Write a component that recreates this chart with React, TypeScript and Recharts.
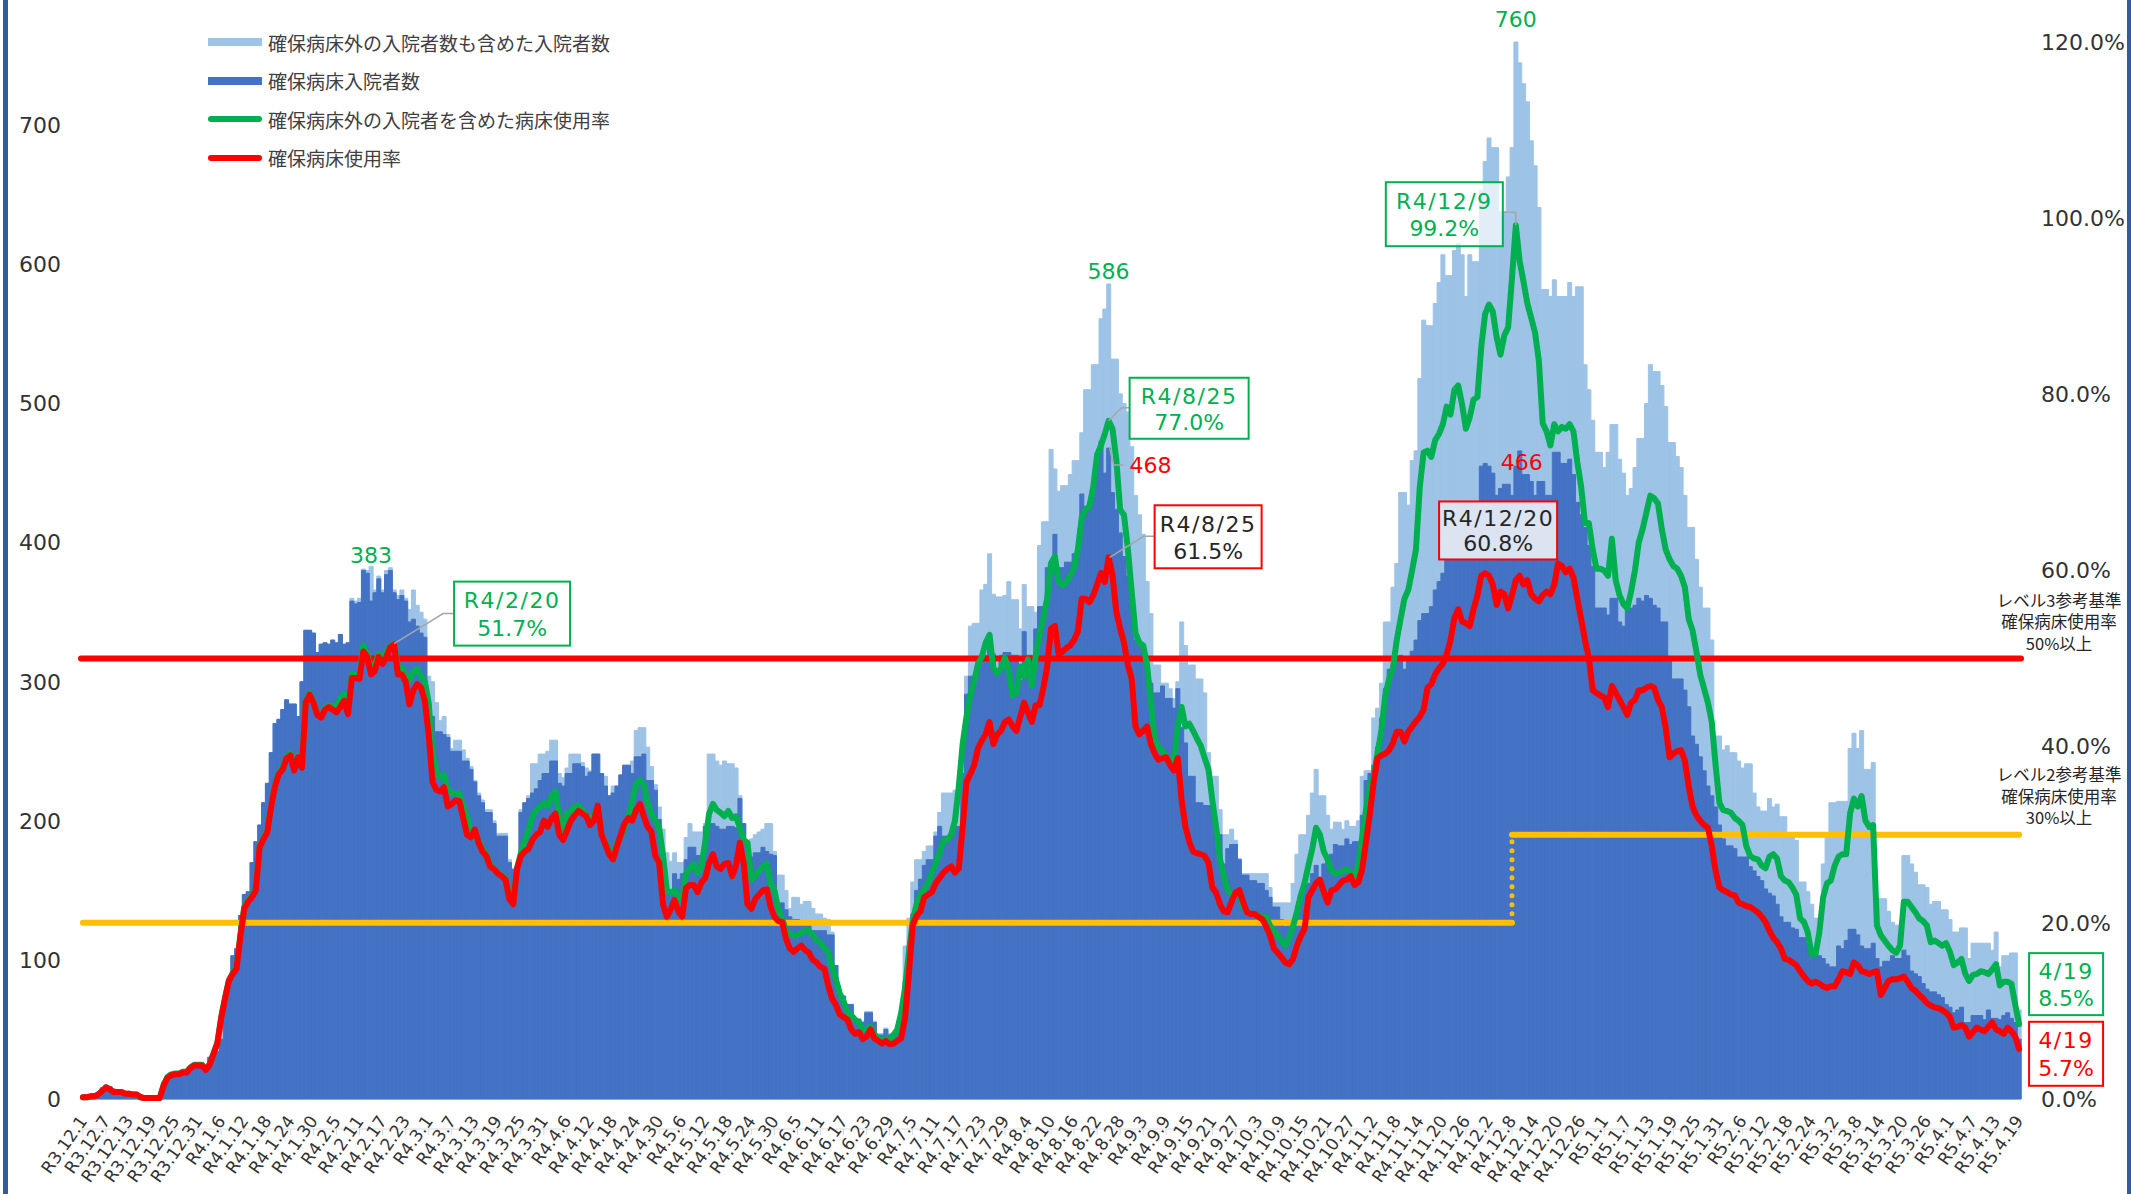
import {
  Bar,
  ComposedChart,
  Line,
  ReferenceDot,
  ReferenceLine,
  XAxis,
  YAxis,
} from "recharts"

const WIDTH = 2131
const HEIGHT = 1194
const FONT = "'DejaVu Sans', 'Noto Sans CJK JP', sans-serif"
const JP_FONT = "'Noto Sans CJK JP', 'DejaVu Sans', sans-serif"

const GREEN = "#00B050"
const RED = "#FF0000"
const LIGHT = "#9DC3E6"
const DARK = "#4472C4"
const YELLOW = "#FFC000"
const LEADER = "#A6A6A6"
const INK = "#262626"
const FRAME = "#3558A0"

// one category per day, R3.12.1 .. R5.4.19
const dayCount = 505
const days = Array.from({ length: dayCount }, (_, i) => {
  const d = new Date(2021, 11, 1 + i)
  return `R${d.getFullYear() - 2018}.${d.getMonth() + 1}.${d.getDate()}`
})

// 確保病床入院者数 (people)
const securedInpatients = [
  2, 3, 3, 4, 5, 8, 10, 9, 7, 6,
  6, 5, 5, 4, 3, 3, 2, 1, 1, 1,
  1, 12, 15, 19, 17, 17, 18, 17, 20, 23,
  23, 24, 22, 30, 32, 34, 43, 68, 86, 103,
  108, 132, 147, 149, 170, 185, 197, 213, 227, 249,
  270, 273, 280, 287, 284, 284, 275, 300, 337, 337,
  335, 321, 327, 328, 327, 330, 328, 334, 327, 328,
  358, 356, 357, 380, 378, 358, 364, 374, 364, 377,
  380, 364, 359, 362, 358, 343, 345, 340, 335, 332,
  285, 275, 264, 264, 262, 260, 250, 250, 250, 243,
  243, 237, 228, 218, 213, 206, 206, 198, 189, 189,
  189, 170, 165, 165, 206, 213, 216, 220, 223, 229,
  234, 234, 243, 243, 227, 225, 234, 234, 241, 241,
  239, 232, 235, 248, 248, 234, 225, 218, 220, 225,
  233, 240, 240, 234, 246, 246, 248, 229, 229, 222,
  201, 177, 150, 150, 162, 158, 162, 172, 181, 181,
  175, 175, 196, 198, 198, 196, 194, 194, 196, 196,
  195, 216, 198, 172, 174, 177, 177, 181, 178, 176,
  175, 141, 141, 136, 131, 129, 129, 127, 127, 127,
  121, 121, 121, 121, 118, 118, 96, 74, 74, 68,
  68, 57, 57, 55, 62, 62, 55, 46, 46, 50,
  46, 46, 52, 60, 85, 110, 133, 150, 158, 168,
  172, 172, 189, 196, 189, 189, 189, 196, 196, 234,
  291, 304, 304, 317, 319, 319, 334, 320, 304, 319,
  321, 321, 319, 319, 301, 336, 319, 319, 338, 354,
  354, 382, 382, 406, 382, 382, 386, 386, 392, 392,
  435, 426, 426, 440, 465, 473, 450, 468, 436, 424,
  407, 390, 376, 362, 330, 326, 322, 303, 299, 292,
  292, 297, 288, 288, 281, 295, 267, 256, 232, 232,
  213, 213, 211, 211, 208, 190, 190, 169, 180, 183,
  183, 172, 161, 161, 157, 157, 155, 155, 150, 145,
  138, 138, 129, 124, 126, 127, 134, 141, 155, 155,
  162, 168, 159, 169, 172, 176, 183, 182, 182, 187,
  183, 185, 185, 204, 229, 234, 240, 253, 274, 295,
  309, 312, 316, 319, 309, 316, 322, 330, 344, 349,
  349, 354, 366, 372, 378, 388, 393, 398, 406, 414,
  414, 412, 424, 424, 455, 457, 455, 450, 434, 439,
  442, 442, 434, 455, 466, 449, 449, 444, 434, 444,
  444, 434, 434, 465, 465, 457, 457, 460, 449, 429,
  420, 411, 398, 383, 353, 353, 353, 348, 360, 360,
  343, 340, 353, 353, 355, 360, 358, 362, 360, 355,
  353, 343, 343, 317, 302, 302, 302, 294, 282, 261,
  255, 246, 236, 225, 218, 210, 197, 187, 182, 182,
  180, 174, 174, 174, 167, 164, 160, 157, 151, 148,
  146, 140, 131, 127, 127, 123, 122, 116, 116, 112,
  105, 104, 103, 101, 97, 95, 95, 110, 108, 114,
  122, 122, 118, 110, 108, 108, 112, 101, 95, 99,
  99, 103, 101, 101, 107, 103, 92, 90, 88, 83,
  79, 77, 77, 75, 73, 68, 66, 62, 64, 66,
  55, 55, 60, 60, 60, 57, 64, 58, 58, 57,
  60, 62, 58, 55, 43,
]

// 確保病床外の入院者数も含めた入院者数 (people)
const allInpatients = [
  2, 3, 3, 4, 5, 8, 10, 9, 7, 6,
  6, 5, 5, 4, 3, 3, 2, 1, 1, 1,
  1, 12, 15, 19, 17, 17, 18, 17, 20, 23,
  23, 24, 22, 30, 32, 34, 43, 68, 86, 103,
  108, 132, 147, 149, 170, 185, 197, 213, 227, 249,
  270, 273, 280, 287, 284, 284, 275, 300, 337, 337,
  335, 321, 327, 328, 327, 330, 328, 334, 327, 328,
  360, 358, 360, 381, 380, 383, 366, 376, 366, 380,
  382, 366, 362, 366, 360, 352, 366, 355, 350, 345,
  304, 300, 285, 272, 275, 262, 252, 258, 258, 251,
  245, 239, 229, 220, 215, 208, 208, 200, 191, 191,
  191, 172, 166, 166, 208, 213, 218, 241, 241, 248,
  248, 250, 258, 258, 234, 231, 238, 248, 248, 248,
  242, 238, 236, 248, 248, 234, 232, 218, 225, 225,
  233, 240, 240, 243, 265, 267, 267, 253, 239, 226,
  210, 194, 177, 171, 177, 170, 170, 188, 198, 192,
  192, 192, 198, 248, 248, 243, 240, 243, 241, 241,
  238, 218, 198, 176, 187, 190, 192, 194, 198, 198,
  178, 161, 161, 150, 137, 145, 145, 140, 142, 142,
  137, 133, 133, 130, 129, 120, 96, 76, 74, 68,
  68, 58, 58, 56, 63, 63, 56, 47, 47, 51,
  47, 47, 53, 62, 110, 130, 156, 172, 172, 178,
  182, 182, 192, 206, 220, 220, 220, 222, 222, 256,
  304, 340, 342, 342, 366, 370, 392, 363, 361, 361,
  362, 372, 359, 359, 338, 370, 354, 354, 350, 398,
  415, 415, 467, 453, 437, 441, 441, 449, 459, 459,
  479, 510, 510, 528, 528, 561, 568, 586, 532, 532,
  507, 500, 494, 469, 434, 420, 406, 372, 349, 312,
  312, 299, 299, 295, 288, 300, 343, 326, 312, 312,
  302, 302, 292, 249, 232, 232, 208, 190, 190, 194,
  186, 173, 162, 162, 162, 162, 162, 162, 162, 152,
  141, 141, 141, 141, 141, 155, 176, 190, 190, 204,
  220, 237, 218, 218, 204, 194, 199, 199, 194, 200,
  196, 196, 200, 232, 236, 236, 274, 281, 299, 343,
  343, 368, 385, 436, 436, 427, 459, 466, 518, 560,
  556, 556, 572, 587, 607, 592, 592, 610, 615, 607,
  577, 607, 602, 602, 653, 674, 691, 684, 684, 638,
  638, 663, 684, 760, 745, 730, 717, 689, 671, 641,
  582, 582, 577, 589, 577, 577, 577, 587, 577, 584,
  584, 528, 510, 488, 465, 465, 454, 465, 485, 485,
  460, 450, 434, 439, 454, 475, 475, 500, 528, 523,
  523, 513, 498, 472, 472, 462, 454, 434, 411, 411,
  388, 368, 353, 353, 330, 261, 261, 251, 254, 249,
  249, 243, 238, 241, 241, 220, 210, 207, 207, 216,
  210, 212, 203, 203, 188, 188, 186, 156, 156, 149,
  140, 130, 130, 169, 190, 213, 213, 214, 214, 214,
  252, 263, 252, 265, 237, 237, 242, 144, 144, 144,
  135, 127, 125, 125, 175, 175, 169, 163, 154, 154,
  152, 140, 142, 142, 136, 136, 129, 120, 120, 123,
  123, 101, 112, 112, 112, 112, 112, 107, 120, 95,
  103, 103, 105, 105, 64,
]

// 確保病床使用率 (%)
const securedRate = [
  0.2, 0.2, 0.3, 0.3, 0.5, 0.9, 1.3, 1.1, 0.8, 0.8,
  0.8, 0.6, 0.6, 0.5, 0.5, 0.2, 0.1, 0.1, 0.1, 0.1,
  0.1, 1.5, 2.4, 2.7, 2.8, 2.8, 3.0, 3.0, 3.5, 3.8,
  3.8, 3.8, 3.3, 3.9, 5.1, 6.3, 9.2, 11.4, 13.4, 14.2,
  14.8, 18.5, 21.6, 22.4, 22.9, 23.7, 28.6, 29.5, 30.3, 33.2,
  35.5, 36.9, 37.4, 38.7, 39.0, 37.3, 38.8, 37.6, 45.0, 45.9,
  45.0, 43.6, 43.3, 44.2, 44.5, 44.2, 43.9, 44.5, 45.2, 43.7,
  47.8, 47.8, 47.7, 50.8, 50.2, 48.2, 48.6, 50.2, 49.4, 50.2,
  51.3, 51.6, 48.2, 48.2, 47.4, 44.8, 46.4, 47.1, 46.7, 45.2,
  41.4, 36.0, 35.1, 34.9, 35.4, 33.2, 33.5, 33.9, 33.8, 31.9,
  30.0, 29.7, 30.6, 29.1, 28.1, 27.6, 26.4, 26.1, 25.6, 25.3,
  24.9, 22.7, 22.1, 26.1, 27.6, 28.1, 28.4, 29.4, 30.0, 30.3,
  31.6, 30.9, 31.9, 32.4, 30.0, 29.4, 30.5, 31.6, 32.2, 32.7,
  32.4, 32.1, 31.1, 31.6, 33.3, 30.0, 28.9, 27.8, 27.2, 28.7,
  30.0, 31.3, 31.9, 31.6, 32.8, 33.5, 32.1, 30.9, 30.3, 27.6,
  26.8, 22.1, 20.7, 21.5, 22.6, 21.3, 20.7, 24.0, 24.3, 24.3,
  23.5, 24.6, 25.1, 26.8, 27.8, 26.4, 26.1, 26.7, 26.8, 25.3,
  26.5, 29.1, 26.8, 22.1, 21.6, 22.7, 23.2, 23.7, 23.8, 21.8,
  20.7, 20.2, 20.1, 18.2, 17.1, 16.7, 17.1, 17.4, 16.9, 16.6,
  15.8, 15.5, 15.0, 14.8, 12.9, 11.4, 10.7, 9.6, 9.3, 9.0,
  7.9, 7.4, 7.6, 6.8, 7.1, 7.9, 6.9, 6.6, 6.3, 6.6,
  6.2, 6.3, 6.6, 6.9, 9.2, 14.2, 19.7, 20.8, 21.3, 22.9,
  23.2, 23.5, 24.5, 25.1, 25.7, 26.1, 26.4, 25.7, 26.2, 30.8,
  36.0, 36.9, 37.9, 39.8, 40.7, 41.4, 42.8, 40.3, 41.4, 41.8,
  42.8, 43.1, 42.3, 41.8, 43.4, 45.0, 43.9, 42.8, 44.7, 44.7,
  46.6, 49.1, 53.4, 53.7, 50.5, 50.8, 51.2, 51.5, 52.1, 53.1,
  56.8, 56.8, 56.4, 57.2, 58.4, 59.7, 58.7, 61.5, 59.5, 55.3,
  53.4, 51.8, 49.3, 47.7, 42.3, 41.4, 41.8, 42.3, 40.3, 39.2,
  38.5, 38.7, 38.8, 37.9, 37.3, 38.7, 33.9, 30.9, 29.2, 28.1,
  27.9, 27.8, 27.6, 26.8, 24.0, 23.4, 22.1, 21.3, 21.2, 22.4,
  23.4, 23.7, 22.4, 21.2, 21.0, 21.0, 20.7, 20.4, 19.6, 18.6,
  17.1, 16.6, 16.1, 15.5, 15.3, 15.9, 17.4, 18.5, 19.3, 22.9,
  23.7, 24.5, 24.9, 23.5, 22.3, 23.7, 23.8, 24.3, 24.8, 24.9,
  25.3, 24.3, 24.6, 26.1, 29.2, 32.4, 36.0, 38.7, 39.0, 39.2,
  39.6, 40.4, 41.7, 41.7, 40.6, 41.7, 42.3, 42.9, 43.4, 44.2,
  46.7, 47.1, 48.2, 48.9, 49.4, 50.5, 52.1, 54.6, 55.6, 54.2,
  54.0, 53.7, 55.6, 57.2, 59.4, 59.7, 59.4, 58.4, 56.1, 57.6,
  57.3, 55.7, 57.2, 58.9, 59.4, 58.4, 58.9, 57.3, 56.8, 56.5,
  57.2, 57.6, 57.3, 58.4, 60.8, 60.5, 59.8, 60.2, 59.2, 56.8,
  54.5, 52.1, 50.1, 46.4, 46.1, 45.8, 45.6, 44.5, 46.9, 46.1,
  45.3, 44.5, 43.6, 45.0, 45.3, 46.4, 46.4, 46.7, 46.9, 46.7,
  45.3, 44.5, 42.2, 38.8, 39.2, 39.5, 39.6, 38.4, 35.5, 33.2,
  32.2, 31.6, 31.1, 30.8, 28.7, 25.9, 24.0, 23.7, 23.5, 23.2,
  23.1, 22.3, 22.1, 21.9, 21.8, 21.5, 21.2, 20.7, 20.1, 19.1,
  18.3, 17.8, 17.1, 15.9, 15.8, 15.5, 15.2, 14.5, 13.9, 13.4,
  13.1, 13.3, 13.1, 12.8, 12.6, 12.8, 12.8, 13.6, 14.5, 14.4,
  14.2, 15.5, 15.2, 14.5, 14.4, 14.2, 14.4, 14.5, 11.8, 12.6,
  13.4, 13.6, 13.6, 13.7, 13.9, 13.3, 12.6, 12.3, 11.8, 11.4,
  10.9, 10.6, 10.4, 10.3, 10.1, 9.8, 9.3, 8.1, 8.2, 8.4,
  8.1, 7.1, 7.6, 8.1, 7.9, 7.7, 8.2, 8.7, 7.9, 7.7,
  7.4, 8.1, 7.7, 7.1, 5.7,
]

// 確保病床外の入院者を含めた病床使用率 (%)
const allRate = [
  0.2, 0.2, 0.3, 0.3, 0.5, 0.9, 1.3, 1.1, 0.8, 0.8,
  0.8, 0.6, 0.6, 0.5, 0.5, 0.2, 0.1, 0.1, 0.1, 0.1,
  0.1, 1.6, 2.5, 2.8, 2.9, 2.9, 3.1, 3.1, 3.6, 3.9,
  3.9, 3.9, 3.4, 4.0, 5.2, 6.4, 9.3, 11.5, 13.5, 14.3,
  15.0, 18.7, 21.8, 22.6, 23.1, 23.9, 28.8, 29.7, 30.5, 33.4,
  35.7, 37.1, 37.6, 38.9, 39.2, 37.5, 39.0, 37.8, 45.2, 46.1,
  45.2, 43.8, 43.5, 44.4, 44.7, 44.6, 44.5, 45.5, 46.0, 44.3,
  48.2, 48.2, 48.0, 51.5, 50.5, 48.6, 49.3, 50.5, 49.9, 50.8,
  51.5, 51.7, 49.0, 49.0, 48.2, 47.5, 48.5, 48.8, 48.0, 47.4,
  45.0, 39.5, 37.1, 36.5, 36.8, 35.1, 34.7, 34.7, 34.7, 33.2,
  32.1, 30.3, 29.7, 29.4, 28.4, 27.8, 26.7, 26.2, 25.7, 25.4,
  25.1, 23.1, 22.3, 26.2, 27.9, 29.4, 30.5, 32.1, 32.8, 33.2,
  33.6, 33.2, 34.4, 34.9, 32.1, 30.5, 32.5, 32.7, 33.2, 33.3,
  32.8, 32.2, 31.7, 32.2, 33.2, 30.0, 29.2, 28.1, 27.6, 29.1,
  29.7, 30.8, 32.1, 33.9, 35.8, 36.2, 35.7, 33.6, 32.4, 31.6,
  30.8, 27.6, 23.7, 23.4, 23.7, 22.9, 22.6, 25.6, 26.2, 26.7,
  25.6, 26.4, 29.2, 32.4, 33.5, 32.8, 32.5, 32.1, 32.7, 31.9,
  32.1, 30.8, 29.4, 29.1, 24.9, 25.3, 25.9, 26.4, 26.7, 24.5,
  23.7, 21.6, 20.5, 19.1, 18.8, 18.6, 18.6, 18.9, 19.1, 19.1,
  18.6, 18.0, 17.7, 17.1, 16.7, 15.0, 13.6, 12.0, 11.1, 9.9,
  9.5, 9.0, 8.7, 7.9, 7.9, 8.2, 7.4, 6.8, 6.6, 6.9,
  6.6, 7.3, 7.9, 9.8, 12.6, 16.6, 20.2, 22.1, 23.2, 23.8,
  24.5, 25.7, 26.8, 27.9, 29.4, 29.4, 30.0, 31.6, 35.5, 40.3,
  43.4, 45.9, 47.4, 49.4, 50.2, 51.8, 52.7, 48.9, 48.3, 48.9,
  50.1, 48.6, 45.8, 46.1, 49.1, 48.0, 49.9, 46.9, 50.2, 52.7,
  54.6, 56.8, 60.8, 61.6, 58.7, 58.3, 58.7, 59.4, 60.3, 62.4,
  66.0, 66.9, 67.3, 69.5, 73.1, 74.2, 75.5, 77.0, 76.1, 72.6,
  66.9, 66.3, 62.5, 57.6, 52.9, 51.8, 51.5, 49.3, 45.0, 40.7,
  39.9, 39.5, 39.0, 38.5, 38.2, 42.3, 44.5, 42.3, 42.6, 41.8,
  40.9, 40.1, 38.7, 37.4, 33.9, 30.8, 27.2, 25.3, 23.7, 23.2,
  23.4, 23.4, 21.8, 21.3, 21.0, 21.0, 20.8, 20.7, 20.7, 19.7,
  19.1, 18.5, 18.0, 17.4, 18.3, 19.6, 21.2, 23.1, 24.5, 26.5,
  28.4, 30.8, 30.0, 28.1, 27.2, 25.9, 25.6, 25.7, 25.9, 26.1,
  25.6, 25.1, 26.7, 29.7, 32.8, 35.7, 36.6, 39.3, 41.8, 45.8,
  47.7, 48.9, 52.1, 54.5, 56.8, 57.8, 60.0, 62.4, 69.5, 73.4,
  73.6, 72.9, 74.8, 75.5, 76.6, 78.6, 77.7, 80.5, 81.0, 78.9,
  76.1, 77.4, 79.4, 79.7, 85.4, 89.1, 90.2, 89.4, 86.5, 84.5,
  86.7, 87.6, 93.2, 99.2, 95.1, 92.8, 90.3, 88.7, 87.0, 83.8,
  76.7, 75.8, 74.2, 76.6, 75.8, 76.3, 76.1, 76.6, 75.8, 72.3,
  69.5, 65.4, 65.4, 62.4, 60.2, 60.2, 60.0, 59.4, 63.6, 58.9,
  57.2, 56.2, 55.7, 57.6, 60.0, 63.2, 64.7, 66.6, 68.5, 68.2,
  67.6, 64.7, 62.4, 61.3, 60.5, 60.2, 59.4, 58.1, 54.5, 53.2,
  50.8, 48.2, 46.6, 45.0, 42.8, 37.9, 33.6, 32.8, 32.7, 32.5,
  31.9, 31.6, 31.1, 28.7, 27.6, 27.3, 27.2, 26.5, 26.2, 27.5,
  27.8, 27.3, 25.3, 24.8, 24.6, 24.0, 23.2, 20.5, 20.1, 18.9,
  16.4, 16.4, 18.9, 22.9, 24.5, 24.8, 26.5, 27.5, 27.8, 27.8,
  32.4, 34.1, 33.2, 34.4, 31.6, 30.9, 31.1, 19.7, 18.6, 18.0,
  17.4, 16.9, 16.6, 17.4, 22.4, 22.4, 21.8, 21.2, 20.5, 20.2,
  19.7, 17.8, 18.0, 17.7, 17.4, 17.7, 16.7, 15.2, 15.5, 15.9,
  14.2, 13.4, 14.1, 14.2, 14.5, 14.4, 14.2, 14.7, 15.3, 12.9,
  13.3, 13.3, 13.1, 10.7, 8.5,
]

const countTicks = [0, 100, 200, 300, 400, 500, 600, 700]
const rateTicks = [0, 20, 40, 60, 80, 100, 120]

// level reference lines (%): level 3 fixed, level 2 steps up on R4.12.8
const level3Rate = 50
const level2Steps = [
  { from: 0, to: 372, rate: 20 },
  { from: 372, to: 504, rate: 30 },
]

const legendItems = [
  { label: "確保病床外の入院者数も含めた入院者数", color: LIGHT, kind: "bar" },
  { label: "確保病床入院者数", color: DARK, kind: "bar" },
  { label: "確保病床外の入院者を含めた病床使用率", color: GREEN, kind: "line" },
  { label: "確保病床使用率", color: RED, kind: "line" },
]

const data = days.map((date, i) => ({
  date,
  secured: securedInpatients[i],
  all: allInpatients[i],
  securedRate: securedRate[i],
  allRate: allRate[i],
}))

type Pt = { cx?: number; cy?: number }

// rotated day label; its end sits just under the tick
function DayTick({ x, y, payload }: { x?: number; y?: number; payload?: { value: string } }) {
  const ax = (x ?? 0) + 5
  const ay = (y ?? 0) - 16
  return (
    <text
      x={ax}
      y={ay}
      transform={`rotate(-55 ${ax} ${ay})`}
      textAnchor="end"
      fontSize={17}
      fontFamily={FONT}
      fill="#333"
    >
      {payload?.value}
    </text>
  )
}

function Callout(props: {
  x: number
  y: number
  w: number
  h: number
  border: string
  color: string
  fill?: string
  lines: [string, string]
}) {
  const { x, y, w, h, border, color, fill = "#fff", lines } = props
  return (
    <g>
      <rect x={x} y={y} width={w} height={h} fill={fill} stroke={border} strokeWidth={2} />
      <text
        x={x + w / 2}
        y={y + h * 0.3}
        textAnchor="middle"
        dominantBaseline="central"
        fontSize={22}
        letterSpacing={1.5}
        fontFamily={FONT}
        fill={color}
      >
        {lines[0]}
      </text>
      <text
        x={x + w / 2}
        y={y + h * 0.73}
        textAnchor="middle"
        dominantBaseline="central"
        fontSize={22}
        fontFamily={FONT}
        fill={color}
      >
        {lines[1]}
      </text>
    </g>
  )
}

function PeakText({ x, y, color, text, anchor = "middle" }: { x: number; y: number; color: string; text: string; anchor?: "middle" | "start" }) {
  return (
    <text x={x} y={y} textAnchor={anchor} dominantBaseline="central" fontSize={22} fontFamily={FONT} fill={color}>
      {text}
    </text>
  )
}

function Leader({ pts }: { pts: number[][] }) {
  return <polyline points={pts.map((p) => p.join(",")).join(" ")} fill="none" stroke={LEADER} strokeWidth={1.5} />
}

function LevelNote({ x, y, lines, offsets }: { x: number; y: number; lines: string[]; offsets: number[] }) {
  return (
    <g>
      {lines.map((t, k) => (
        <text
          key={k}
          x={x}
          y={y + offsets[k]}
          textAnchor="middle"
          dominantBaseline="central"
          fontSize={16.5}
          fontFamily={JP_FONT}
          fill={INK}
        >
          {t}
        </text>
      ))}
    </g>
  )
}

function Legend() {
  return (
    <div style={{ position: "absolute", left: 208, top: 23, zIndex: 2 }}>
      {legendItems.map((it) => (
        <div key={it.label} style={{ display: "flex", alignItems: "center", height: 38.5 }}>
          <div
            style={{
              width: 54,
              height: it.kind === "bar" ? 8 : 6,
              background: it.color,
              borderRadius: it.kind === "bar" ? 0 : 3,
              marginRight: 6,
            }}
          />
          <span style={{ fontFamily: JP_FONT, fontSize: 19, color: "#404040", whiteSpace: "nowrap" }}>{it.label}</span>
        </div>
      ))}
    </div>
  )
}

export default function App() {
  const last = days[dayCount - 1]
  return (
    <div
      style={{
        position: "absolute",
        left: 0,
        top: 0,
        width: WIDTH,
        height: HEIGHT,
        background: "#fff",
        overflow: "hidden",
      }}
    >
      <div style={{ position: "absolute", left: 3, top: 0, width: 5, height: HEIGHT, background: FRAME, zIndex: 3 }} />
      <div style={{ position: "absolute", left: 2127, top: 0, width: 4, height: HEIGHT, background: FRAME, zIndex: 3 }} />
      <Legend />
      <ComposedChart
        width={WIDTH}
        height={HEIGHT}
        data={data}
        margin={{ top: 42, right: 0, bottom: 0, left: 0 }}
        barCategoryGap={0}
        barGap={0}
      >
        <XAxis
          xAxisId="main"
          dataKey="date"
          interval={5}
          height={95}
          tickSize={6}
          tickMargin={2}
          tickLine={{ stroke: "#D9D9D9" }}
          axisLine={{ stroke: "#D9D9D9" }}
          tick={(p: any) => <DayTick {...p} />}
        />
        <XAxis xAxisId="back" dataKey="date" hide />
        <YAxis
          yAxisId="left"
          domain={[0, 760]}
          ticks={countTicks}
          width={81}
          tickSize={0}
          tickMargin={20}
          axisLine={false}
          tickLine={false}
          tick={{ fontSize: 22, fill: "#333", fontFamily: FONT }}
        />
        <YAxis
          yAxisId="right"
          orientation="right"
          domain={[0, 120]}
          ticks={rateTicks}
          width={110}
          tickSize={0}
          tickMargin={20}
          axisLine={false}
          tickLine={false}
          tickFormatter={(v: number) => `${v.toFixed(1)}%`}
          tick={{ fontSize: 22, fill: "#333", fontFamily: FONT }}
        />
        <Bar
          xAxisId="back"
          yAxisId="left"
          dataKey="all"
          fill={LIGHT}
          stroke={LIGHT}
          strokeWidth={1}
          isAnimationActive={false}
        />
        <Bar
          xAxisId="main"
          yAxisId="left"
          dataKey="secured"
          fill={DARK}
          stroke={DARK}
          strokeWidth={1}
          isAnimationActive={false}
        />
        <ReferenceLine
          xAxisId="main"
          yAxisId="right"
          y={level3Rate}
          stroke={RED}
          strokeWidth={6}
          strokeLinecap="round"
        />
        {level2Steps.map((s) => (
          <ReferenceLine
            key={s.from}
            xAxisId="main"
            yAxisId="right"
            segment={[
              { x: days[s.from], y: s.rate },
              { x: days[s.to], y: s.rate },
            ]}
            stroke={YELLOW}
            strokeWidth={6}
            strokeLinecap="round"
          />
        ))}
        <ReferenceLine
          xAxisId="main"
          yAxisId="right"
          segment={[
            { x: days[level2Steps[1].from], y: level2Steps[0].rate },
            { x: days[level2Steps[1].from], y: level2Steps[1].rate },
          ]}
          stroke={YELLOW}
          strokeWidth={5}
          strokeDasharray="0 9"
          strokeLinecap="round"
        />
        <Line
          xAxisId="main"
          yAxisId="right"
          type="linear"
          dataKey="allRate"
          stroke={GREEN}
          strokeWidth={6}
          strokeLinejoin="round"
          strokeLinecap="round"
          dot={false}
          activeDot={false}
          isAnimationActive={false}
        />
        <Line
          xAxisId="main"
          yAxisId="right"
          type="linear"
          dataKey="securedRate"
          stroke={RED}
          strokeWidth={6}
          strokeLinejoin="round"
          strokeLinecap="round"
          dot={false}
          activeDot={false}
          isAnimationActive={false}
        />

        {/* level notes on the right */}
        <ReferenceDot
          xAxisId="main"
          yAxisId="right"
          x={last}
          y={level3Rate}
          r={0}
          zIndex={1500}
          shape={(p: Pt) => (
            <LevelNote
              x={(p.cx ?? 0) + 40}
              y={p.cy ?? 0}
              lines={["レベル3参考基準", "確保病床使用率", "50%以上"]}
              offsets={[-59, -37.5, -16]}
            />
          )}
        />
        <ReferenceDot
          xAxisId="main"
          yAxisId="right"
          x={last}
          y={level2Steps[1].rate}
          r={0}
          zIndex={1500}
          shape={(p: Pt) => (
            <LevelNote
              x={(p.cx ?? 0) + 40}
              y={p.cy ?? 0}
              lines={["レベル2参考基準", "確保病床使用率", "30%以上"]}
              offsets={[-61, -39, -18]}
            />
          )}
        />

        {/* peak labels */}
        <ReferenceDot
          xAxisId="main"
          yAxisId="left"
          x={days[75]}
          y={383}
          r={0}
          zIndex={1500}
          shape={(p: Pt) => <PeakText x={p.cx ?? 0} y={(p.cy ?? 0) - 11} color={GREEN} text="383" />}
        />
        <ReferenceDot
          xAxisId="main"
          yAxisId="left"
          x={days[267]}
          y={586}
          r={0}
          zIndex={1500}
          shape={(p: Pt) => <PeakText x={p.cx ?? 0} y={(p.cy ?? 0) - 12} color={GREEN} text="586" />}
        />
        <ReferenceDot
          xAxisId="main"
          yAxisId="left"
          x={days[373]}
          y={760}
          r={0}
          zIndex={1500}
          shape={(p: Pt) => <PeakText x={p.cx ?? 0} y={(p.cy ?? 0) - 23} color={GREEN} text="760" />}
        />
        <ReferenceDot
          xAxisId="main"
          yAxisId="left"
          x={days[267]}
          y={468}
          r={0}
          zIndex={1500}
          shape={(p: Pt) => {
            const x = p.cx ?? 0
            const y = p.cy ?? 0
            return (
              <g>
                <Leader pts={[[x + 1, y], [x + 5, y + 17], [x + 15, y + 17]]} />
                <PeakText x={x + 21} y={y + 17} color={RED} text="468" anchor="start" />
              </g>
            )
          }}
        />
        <ReferenceDot
          xAxisId="main"
          yAxisId="left"
          x={days[374]}
          y={466}
          r={0}
          zIndex={1500}
          shape={(p: Pt) => <PeakText x={(p.cx ?? 0) + 2} y={(p.cy ?? 0) + 12} color={RED} text="466" />}
        />

        {/* callout boxes */}
        <ReferenceDot
          xAxisId="main"
          yAxisId="right"
          x={days[81]}
          y={51.7}
          r={0}
          zIndex={1500}
          shape={(p: Pt) => {
            const x = p.cx ?? 0
            const y = p.cy ?? 0
            return (
              <g>
                <Leader pts={[[x, y], [x + 49, y - 30], [x + 60, y - 30]]} />
                <Callout x={x + 60} y={y - 62} w={116} h={64} border={GREEN} color={GREEN} lines={["R4/2/20", "51.7%"]} />
              </g>
            )
          }}
        />
        <ReferenceDot
          xAxisId="main"
          yAxisId="right"
          x={days[267]}
          y={77.0}
          r={0}
          zIndex={1500}
          shape={(p: Pt) => {
            const x = p.cx ?? 0
            const y = p.cy ?? 0
            return (
              <g>
                <Leader pts={[[x, y], [x + 13, y - 13], [x + 21, y - 13]]} />
                <Callout x={x + 21} y={y - 43} w={119} h={61} border={GREEN} color={GREEN} lines={["R4/8/25", "77.0%"]} />
              </g>
            )
          }}
        />
        <ReferenceDot
          xAxisId="main"
          yAxisId="right"
          x={days[267]}
          y={61.5}
          r={0}
          zIndex={1500}
          shape={(p: Pt) => {
            const x = p.cx ?? 0
            const y = p.cy ?? 0
            return (
              <g>
                <Leader pts={[[x + 1, y], [x + 35, y - 21], [x + 46, y - 21]]} />
                <Callout x={x + 46} y={y - 52} w={107} h={63} border={RED} color={INK} lines={["R4/8/25", "61.5%"]} />
              </g>
            )
          }}
        />
        <ReferenceDot
          xAxisId="main"
          yAxisId="right"
          x={days[373]}
          y={99.2}
          r={0}
          zIndex={1500}
          shape={(p: Pt) => {
            const x = p.cx ?? 0
            const y = p.cy ?? 0
            return (
              <g>
                <Leader pts={[[x, y], [x, y - 13], [x - 13, y - 13]]} />
                <Callout
                  x={x - 130}
                  y={y - 43}
                  w={117}
                  h={64}
                  border={GREEN}
                  color={GREEN}
                  fill="rgba(255,255,255,0.7)"
                  lines={["R4/12/9", "99.2%"]}
                />
              </g>
            )
          }}
        />
        <ReferenceDot
          xAxisId="main"
          yAxisId="right"
          x={days[384]}
          y={60.8}
          r={0}
          zIndex={1500}
          shape={(p: Pt) => {
            const x = p.cx ?? 0
            const y = p.cy ?? 0
            return (
              <Callout
                x={x - 119}
                y={y - 62}
                w={118}
                h={58}
                border={RED}
                color={INK}
                fill="#DCE3F1"
                lines={["R4/12/20", "60.8%"]}
              />
            )
          }}
        />
        <ReferenceDot
          xAxisId="main"
          yAxisId="right"
          x={last}
          y={8.5}
          r={0}
          zIndex={1500}
          shape={(p: Pt) => (
            <Callout
              x={(p.cx ?? 0) + 10}
              y={(p.cy ?? 0) - 71}
              w={74}
              h={62}
              border={GREEN}
              color={GREEN}
              lines={["4/19", "8.5%"]}
            />
          )}
        />
        <ReferenceDot
          xAxisId="main"
          yAxisId="right"
          x={last}
          y={5.7}
          r={0}
          zIndex={1500}
          shape={(p: Pt) => (
            <Callout
              x={(p.cx ?? 0) + 10}
              y={(p.cy ?? 0) - 27}
              w={74}
              h={64}
              border={RED}
              color={RED}
              lines={["4/19", "5.7%"]}
            />
          )}
        />
      </ComposedChart>
    </div>
  )
}
